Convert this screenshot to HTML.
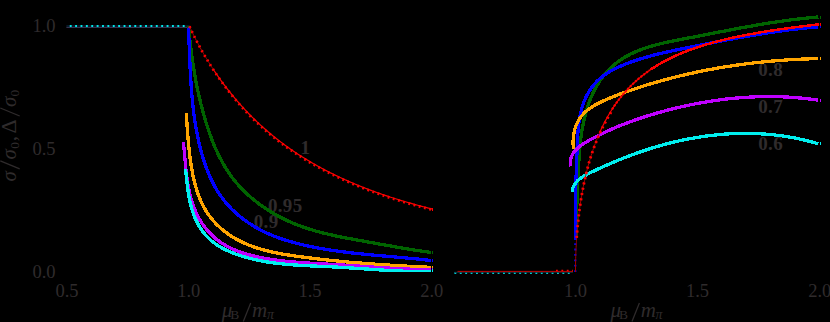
<!DOCTYPE html>
<html><head><meta charset="utf-8"><title>plot</title>
<style>html,body{margin:0;padding:0;background:#000;}body{width:830px;height:322px;overflow:hidden;}svg{display:block;}text{font-family:"Liberation Serif",serif;fill:#2f2b2c;}.b{font-weight:bold;font-size:19px;letter-spacing:0.3px;}.t{font-size:18.5px;}.i{font-style:italic;}</style>
</head><body>
<svg width="830" height="322" viewBox="0 0 830 322">
<rect width="830" height="322" fill="#000"/>
<defs><clipPath id="cl"><rect x="60" y="0" width="380" height="272.05"/></clipPath></defs>
<text x="55.5" y="31.6" class="t" text-anchor="end">1.0</text>
<text x="55.5" y="154.5" class="t" text-anchor="end">0.5</text>
<text x="55.5" y="277.5" class="t" text-anchor="end">0.0</text>
<text x="67.0" y="297.2" class="t" text-anchor="middle">0.5</text>
<text x="188.8" y="297.2" class="t" text-anchor="middle">1.0</text>
<text x="310.0" y="297.2" class="t" text-anchor="middle">1.5</text>
<text x="431.8" y="297.2" class="t" text-anchor="middle">2.0</text>
<text x="575.5" y="297.2" class="t" text-anchor="middle">1.0</text>
<text x="697.5" y="297.2" class="t" text-anchor="middle">1.5</text>
<text x="819.8" y="297.2" class="t" text-anchor="middle">2.0</text>
<g class="t i" style="font-size:21px"><text x="221.7" y="317.2">μ</text><text x="230.3" y="319.4" style="font-size:13.5px;font-style:normal">B</text><path d="M243.3 321.6 l7.4 -18.6" stroke="#2f2b2c" stroke-width="1.25" fill="none"/><text x="252.0" y="317.2">m</text><text x="266.9" y="319.4" style="font-size:14px">π</text></g>
<g class="t i" style="font-size:21px"><text x="610.4" y="317.2">μ</text><text x="619.0" y="319.4" style="font-size:13.5px;font-style:normal">B</text><path d="M632.0 321.6 l7.4 -18.6" stroke="#2f2b2c" stroke-width="1.25" fill="none"/><text x="640.7" y="317.2">m</text><text x="655.6" y="319.4" style="font-size:14px">π</text></g>
<g transform="translate(15.5,183) rotate(-90)" class="t i" style="font-size:21px"><text x="1.5" y="0">σ</text><path d="M14.2 4.2 l8 -19.4" stroke="#2f2b2c" stroke-width="1.25" fill="none"/><text x="23.5" y="0">σ</text><text x="34.3" y="3" style="font-size:13.5px;font-style:normal">0</text><text x="41.8" y="0" style="font-style:normal">,</text><text x="49.5" y="0" style="font-style:normal;font-size:22px">Δ</text><path d="M67 4.2 l8 -19.4" stroke="#2f2b2c" stroke-width="1.25" fill="none"/><text x="76" y="0">σ</text><text x="86.6" y="3" style="font-size:13.5px;font-style:normal">0</text></g>
<text x="300.5" y="153.8" class="b" text-anchor="start">1</text>
<text x="268.0" y="211.6" class="b" text-anchor="start">0.95</text>
<text x="253.8" y="228.2" class="b" text-anchor="start">0.9</text>
<text x="758.3" y="76.0" class="b" text-anchor="start">0.8</text>
<text x="758.3" y="112.5" class="b" text-anchor="start">0.7</text>
<text x="758.3" y="149.9" class="b" text-anchor="start">0.6</text>
<path d="M66.4 27.4 H189.6" stroke="#565082" stroke-width="0.7" fill="none"/>
<path d="M66.4 26 H189.8" stroke="#0c2236" stroke-width="1.4" fill="none"/>
<path d="M66.4 26 H186" stroke="#00e5e5" stroke-width="2.2" stroke-dasharray="1.9 3.48" stroke-dashoffset="2.03" fill="none"/>
<path d="M188.50 26.30 L188.64 27.77 L188.77 29.24 L188.91 30.71 L189.05 32.17 L189.20 33.64 L189.35 35.10 L189.50 36.56 L189.65 38.02 L189.81 39.48 L189.97 40.94 L190.14 42.40 L190.30 43.85 L190.47 45.31 L190.65 46.76 L190.82 48.21 L191.00 49.67 L191.19 51.12 L191.37 52.56 L191.56 54.01 L191.76 55.46 L191.96 56.90 L192.16 58.35 L192.36 59.79 L192.57 61.23 L192.79 62.68 L193.00 64.12 L193.23 65.56 L193.45 66.99 L193.68 68.43 L193.91 69.87 L194.15 71.30 L194.40 72.74 L194.64 74.17 L194.89 75.60 L195.15 77.04 L195.41 78.47 L195.68 79.90 L195.95 81.33 L196.22 82.76 L196.50 84.18 L196.78 85.61 L197.07 87.04 L197.37 88.46 L197.67 89.88 L197.97 91.31 L198.28 92.73 L198.59 94.15 L198.91 95.58 L199.24 97.00 L199.57 98.42 L199.90 99.84 L200.25 101.25 L200.59 102.67 L200.94 104.09 L201.30 105.51 L201.67 106.92 L202.04 108.34 L202.41 109.75 L202.79 111.17 L203.18 112.58 L203.57 114.00 L203.97 115.41 L204.38 116.82 L204.79 118.23 L205.21 119.64 L205.63 121.06 L206.06 122.47 L206.50 123.88 L206.94 125.28 L207.39 126.69 L207.85 128.10 L208.31 129.50 L208.79 130.90 L209.27 132.30 L209.76 133.69 L210.25 135.09 L210.76 136.48 L211.27 137.86 L211.79 139.25 L212.32 140.63 L212.86 142.00 L213.41 143.37 L213.97 144.74 L214.54 146.10 L215.12 147.46 L215.71 148.81 L216.30 150.15 L216.91 151.49 L217.53 152.82 L218.16 154.15 L218.80 155.47 L219.46 156.78 L220.12 158.09 L220.79 159.39 L221.48 160.68 L222.18 161.96 L222.89 163.24 L223.61 164.50 L224.35 165.76 L225.09 167.01 L225.85 168.25 L226.63 169.48 L227.42 170.70 L228.22 171.91 L229.03 173.12 L229.86 174.31 L230.70 175.49 L231.55 176.66 L232.42 177.82 L233.31 178.96 L234.20 180.10 L235.11 181.23 L236.04 182.34 L236.97 183.45 L237.92 184.54 L238.88 185.62 L239.86 186.69 L240.84 187.76 L241.84 188.81 L242.85 189.85 L243.88 190.87 L244.91 191.89 L245.95 192.90 L247.01 193.89 L248.08 194.88 L249.16 195.85 L250.25 196.81 L251.35 197.76 L252.46 198.70 L253.58 199.63 L254.71 200.55 L255.85 201.46 L257.00 202.35 L258.16 203.24 L259.33 204.11 L260.51 204.97 L261.70 205.82 L262.89 206.66 L264.10 207.49 L265.31 208.31 L266.53 209.12 L267.76 209.91 L269.00 210.70 L270.25 211.47 L271.50 212.23 L272.76 212.98 L274.03 213.72 L275.30 214.45 L276.58 215.17 L277.87 215.87 L279.16 216.57 L280.46 217.25 L281.77 217.92 L283.08 218.58 L284.40 219.23 L285.73 219.87 L287.06 220.49 L288.39 221.11 L289.73 221.71 L291.08 222.30 L292.43 222.88 L293.78 223.45 L295.14 224.01 L296.50 224.56 L297.87 225.09 L299.24 225.62 L300.62 226.13 L302.00 226.63 L303.38 227.12 L304.76 227.60 L306.15 228.06 L307.54 228.52 L308.94 228.97 L310.33 229.41 L311.73 229.84 L313.14 230.25 L314.54 230.66 L315.95 231.07 L317.36 231.46 L318.78 231.84 L320.19 232.22 L321.61 232.59 L323.03 232.95 L324.45 233.30 L325.88 233.65 L327.30 233.99 L328.73 234.33 L330.16 234.65 L331.59 234.98 L333.02 235.29 L334.46 235.60 L335.89 235.91 L337.33 236.21 L338.77 236.51 L340.21 236.80 L341.65 237.09 L343.09 237.37 L344.53 237.65 L345.97 237.93 L347.41 238.21 L348.86 238.48 L350.30 238.75 L351.74 239.01 L353.19 239.28 L354.63 239.54 L356.08 239.80 L357.52 240.06 L358.96 240.32 L360.41 240.58 L361.85 240.84 L363.29 241.10 L364.74 241.36 L366.18 241.61 L367.62 241.87 L369.06 242.13 L370.50 242.39 L371.94 242.65 L373.38 242.91 L374.82 243.17 L376.25 243.43 L377.69 243.69 L379.13 243.96 L380.56 244.22 L382.00 244.47 L383.44 244.73 L384.87 244.99 L386.31 245.25 L387.75 245.51 L389.18 245.76 L390.62 246.02 L392.05 246.27 L393.49 246.53 L394.93 246.78 L396.36 247.03 L397.80 247.28 L399.24 247.53 L400.68 247.77 L402.11 248.02 L403.55 248.26 L404.99 248.50 L406.43 248.74 L407.87 248.98 L409.31 249.21 L410.75 249.45 L412.20 249.68 L413.64 249.91 L415.08 250.13 L416.53 250.35 L417.98 250.57 L419.42 250.79 L420.87 251.00 L422.32 251.22 L423.77 251.42 L425.22 251.63 L426.67 251.83 L428.13 252.03 L429.58 252.22 L431.04 252.41 L431.20 252.43" fill="none" stroke="#006400" stroke-width="3.30" stroke-linejoin="round" clip-path="url(#cl)" shape-rendering="crispEdges"/>
<rect x="431.9" y="251.1" width="1.1" height="3" fill="#006400" shape-rendering="crispEdges"/>
<path d="M188.40 27.50 L188.47 29.06 L188.54 30.62 L188.62 32.18 L188.68 33.73 L188.75 35.29 L188.82 36.84 L188.88 38.40 L188.95 39.95 L189.01 41.51 L189.08 43.06 L189.14 44.61 L189.20 46.17 L189.26 47.72 L189.32 49.27 L189.39 50.82 L189.45 52.37 L189.51 53.92 L189.57 55.47 L189.64 57.02 L189.70 58.57 L189.77 60.11 L189.84 61.66 L189.90 63.21 L189.97 64.76 L190.05 66.30 L190.12 67.85 L190.20 69.39 L190.27 70.94 L190.35 72.49 L190.44 74.03 L190.52 75.57 L190.61 77.12 L190.70 78.66 L190.79 80.21 L190.89 81.75 L190.99 83.29 L191.09 84.83 L191.20 86.38 L191.31 87.92 L191.42 89.46 L191.54 91.00 L191.67 92.55 L191.79 94.09 L191.92 95.63 L192.06 97.17 L192.20 98.71 L192.35 100.25 L192.50 101.79 L192.66 103.33 L192.82 104.87 L192.99 106.42 L193.16 107.96 L193.34 109.50 L193.53 111.04 L193.72 112.58 L193.92 114.12 L194.12 115.66 L194.34 117.20 L194.55 118.74 L194.78 120.28 L195.01 121.82 L195.25 123.36 L195.50 124.90 L195.76 126.44 L196.02 127.98 L196.29 129.52 L196.57 131.07 L196.85 132.61 L197.15 134.15 L197.45 135.69 L197.77 137.23 L198.09 138.77 L198.42 140.31 L198.76 141.85 L199.11 143.39 L199.47 144.93 L199.84 146.46 L200.22 147.99 L200.61 149.52 L201.01 151.05 L201.42 152.57 L201.85 154.09 L202.28 155.61 L202.73 157.12 L203.19 158.62 L203.66 160.13 L204.14 161.62 L204.64 163.11 L205.15 164.60 L205.67 166.07 L206.21 167.54 L206.76 169.01 L207.32 170.47 L207.90 171.91 L208.49 173.36 L209.09 174.79 L209.71 176.21 L210.35 177.63 L211.00 179.03 L211.67 180.43 L212.35 181.81 L213.05 183.19 L213.76 184.55 L214.49 185.91 L215.24 187.25 L216.01 188.58 L216.79 189.90 L217.59 191.20 L218.40 192.50 L219.24 193.78 L220.09 195.04 L220.96 196.30 L221.85 197.53 L222.76 198.76 L223.68 199.97 L224.63 201.16 L225.60 202.34 L226.58 203.51 L227.58 204.66 L228.60 205.79 L229.64 206.91 L230.69 208.01 L231.76 209.10 L232.85 210.18 L233.95 211.23 L235.07 212.28 L236.21 213.30 L237.36 214.32 L238.53 215.31 L239.71 216.29 L240.90 217.26 L242.11 218.21 L243.34 219.15 L244.57 220.06 L245.82 220.97 L247.09 221.86 L248.36 222.73 L249.65 223.59 L250.95 224.43 L252.26 225.26 L253.58 226.07 L254.92 226.86 L256.26 227.64 L257.61 228.40 L258.98 229.15 L260.35 229.88 L261.74 230.60 L263.13 231.30 L264.53 231.98 L265.94 232.65 L267.36 233.31 L268.78 233.94 L270.22 234.56 L271.66 235.17 L273.10 235.76 L274.56 236.33 L276.02 236.89 L277.48 237.44 L278.96 237.97 L280.43 238.49 L281.92 238.99 L283.40 239.48 L284.90 239.96 L286.39 240.43 L287.89 240.88 L289.40 241.33 L290.90 241.76 L292.41 242.18 L293.93 242.59 L295.44 242.99 L296.96 243.39 L298.48 243.77 L300.00 244.14 L301.52 244.51 L303.05 244.87 L304.57 245.22 L306.10 245.56 L307.62 245.89 L309.15 246.22 L310.68 246.54 L312.20 246.86 L313.73 247.16 L315.26 247.46 L316.80 247.75 L318.33 248.04 L319.86 248.32 L321.39 248.59 L322.93 248.86 L324.46 249.12 L326.00 249.37 L327.53 249.62 L329.07 249.87 L330.61 250.10 L332.14 250.34 L333.68 250.56 L335.22 250.79 L336.76 251.00 L338.30 251.22 L339.84 251.43 L341.38 251.63 L342.92 251.83 L344.47 252.02 L346.01 252.22 L347.55 252.40 L349.09 252.59 L350.64 252.77 L352.18 252.94 L353.72 253.11 L355.27 253.28 L356.81 253.45 L358.36 253.61 L359.90 253.77 L361.45 253.93 L363.00 254.09 L364.54 254.24 L366.09 254.39 L367.63 254.54 L369.18 254.69 L370.73 254.83 L372.27 254.98 L373.82 255.12 L375.37 255.26 L376.91 255.40 L378.46 255.53 L380.01 255.67 L381.56 255.81 L383.10 255.94 L384.65 256.08 L386.20 256.21 L387.74 256.34 L389.29 256.48 L390.84 256.61 L392.38 256.74 L393.93 256.88 L395.48 257.01 L397.02 257.15 L398.57 257.28 L400.12 257.42 L401.66 257.55 L403.21 257.69 L404.75 257.83 L406.30 257.97 L407.84 258.11 L409.38 258.26 L410.93 258.40 L412.47 258.55 L414.02 258.70 L415.56 258.85 L417.10 259.01 L418.64 259.16 L420.18 259.32 L421.73 259.48 L423.27 259.65 L424.81 259.82 L426.35 259.99 L427.88 260.16 L429.42 260.34 L430.96 260.52 L431.20 260.55" fill="none" stroke="#0000ff" stroke-width="3.30" stroke-linejoin="round" clip-path="url(#cl)" shape-rendering="crispEdges"/>
<rect x="431.9" y="259.2" width="1.1" height="3" fill="#0000ff" shape-rendering="crispEdges"/>
<path d="M186.29 113.11 L186.37 114.41 L186.45 115.71 L186.54 117.01 L186.62 118.32 L186.70 119.62 L186.78 120.93 L186.86 122.23 L186.95 123.54 L187.03 124.84 L187.12 126.15 L187.21 127.45 L187.30 128.76 L187.39 130.07 L187.49 131.38 L187.58 132.69 L187.68 134.00 L187.78 135.31 L187.89 136.62 L187.99 137.93 L188.10 139.24 L188.21 140.55 L188.33 141.87 L188.45 143.18 L188.57 144.50 L188.70 145.81 L188.83 147.13 L188.97 148.45 L189.11 149.77 L189.25 151.09 L189.40 152.41 L189.56 153.73 L189.72 155.05 L189.88 156.37 L190.05 157.70 L190.23 159.02 L190.41 160.35 L190.59 161.67 L190.79 163.00 L190.99 164.33 L191.19 165.66 L191.41 166.98 L191.63 168.31 L191.86 169.64 L192.10 170.96 L192.34 172.28 L192.60 173.60 L192.86 174.92 L193.13 176.24 L193.42 177.55 L193.71 178.86 L194.01 180.17 L194.33 181.47 L194.65 182.77 L194.99 184.06 L195.34 185.35 L195.70 186.63 L196.07 187.91 L196.46 189.18 L196.85 190.44 L197.26 191.70 L197.69 192.95 L198.13 194.20 L198.58 195.44 L199.05 196.67 L199.53 197.89 L200.03 199.10 L200.54 200.30 L201.07 201.50 L201.61 202.68 L202.17 203.86 L202.75 205.03 L203.34 206.18 L203.95 207.32 L204.58 208.46 L205.23 209.58 L205.90 210.69 L206.58 211.79 L207.28 212.88 L208.01 213.95 L208.75 215.01 L209.51 216.06 L210.29 217.09 L211.09 218.11 L211.91 219.12 L212.74 220.11 L213.60 221.09 L214.47 222.06 L215.35 223.01 L216.26 223.94 L217.18 224.87 L218.11 225.78 L219.07 226.67 L220.03 227.55 L221.01 228.42 L222.01 229.27 L223.02 230.11 L224.04 230.93 L225.07 231.74 L226.12 232.53 L227.18 233.31 L228.25 234.07 L229.33 234.82 L230.42 235.55 L231.53 236.27 L232.64 236.97 L233.77 237.66 L234.90 238.33 L236.04 238.98 L237.19 239.62 L238.35 240.24 L239.51 240.85 L240.69 241.44 L241.87 242.01 L243.06 242.57 L244.25 243.12 L245.46 243.65 L246.67 244.17 L247.88 244.67 L249.10 245.16 L250.33 245.63 L251.57 246.09 L252.81 246.54 L254.05 246.98 L255.30 247.41 L256.56 247.82 L257.82 248.22 L259.08 248.61 L260.36 248.99 L261.63 249.36 L262.91 249.71 L264.19 250.06 L265.48 250.40 L266.77 250.73 L268.07 251.04 L269.37 251.35 L270.67 251.65 L271.97 251.95 L273.28 252.23 L274.59 252.51 L275.90 252.77 L277.22 253.04 L278.54 253.29 L279.86 253.54 L281.18 253.78 L282.50 254.01 L283.82 254.24 L285.15 254.47 L286.48 254.68 L287.80 254.90 L289.13 255.10 L290.46 255.31 L291.79 255.51 L293.12 255.70 L294.45 255.90 L295.78 256.09 L297.10 256.27 L298.43 256.46 L299.76 256.64 L301.08 256.82 L302.41 256.99 L303.73 257.17 L305.06 257.34 L306.38 257.51 L307.70 257.68 L309.02 257.85 L310.34 258.02 L311.66 258.18 L312.98 258.34 L314.30 258.50 L315.61 258.66 L316.93 258.81 L318.24 258.97 L319.56 259.12 L320.87 259.27 L322.19 259.42 L323.50 259.57 L324.81 259.71 L326.12 259.86 L327.43 260.00 L328.74 260.14 L330.05 260.28 L331.36 260.42 L332.67 260.55 L333.98 260.69 L335.29 260.82 L336.60 260.95 L337.90 261.08 L339.21 261.21 L340.52 261.33 L341.82 261.46 L343.13 261.58 L344.43 261.70 L345.74 261.82 L347.05 261.94 L348.35 262.06 L349.66 262.18 L350.96 262.29 L352.26 262.41 L353.57 262.52 L354.87 262.63 L356.18 262.74 L357.48 262.85 L358.79 262.95 L360.09 263.06 L361.40 263.16 L362.70 263.27 L364.01 263.37 L365.31 263.47 L366.61 263.57 L367.92 263.67 L369.22 263.76 L370.53 263.86 L371.84 263.95 L373.14 264.05 L374.45 264.14 L375.75 264.23 L377.06 264.32 L378.37 264.41 L379.67 264.50 L380.98 264.59 L382.29 264.68 L383.60 264.76 L384.91 264.85 L386.22 264.93 L387.53 265.01 L388.84 265.09 L390.15 265.18 L391.46 265.26 L392.77 265.33 L394.08 265.41 L395.40 265.49 L396.71 265.57 L398.02 265.64 L399.34 265.72 L400.65 265.79 L401.97 265.87 L403.29 265.94 L404.61 266.01 L405.93 266.08 L407.25 266.16 L408.57 266.23 L409.89 266.30 L411.21 266.36 L412.53 266.43 L413.86 266.50 L415.18 266.57 L416.51 266.64 L417.83 266.70 L419.16 266.77 L420.49 266.83 L421.82 266.90 L423.15 266.96 L424.48 267.03 L425.82 267.09 L427.15 267.15 L428.49 267.21 L429.82 267.28 L431.16 267.34 L431.20 267.34" fill="none" stroke="#ffa500" stroke-width="3.30" stroke-linejoin="round" clip-path="url(#cl)" shape-rendering="crispEdges"/>
<rect x="431.9" y="265.9" width="1.1" height="3" fill="#ffa500" shape-rendering="crispEdges"/>
<path d="M183.30 142.11 L183.44 143.32 L183.57 144.53 L183.70 145.75 L183.83 146.97 L183.95 148.20 L184.07 149.43 L184.19 150.67 L184.31 151.91 L184.42 153.15 L184.53 154.39 L184.65 155.64 L184.76 156.89 L184.87 158.15 L184.98 159.40 L185.09 160.66 L185.21 161.92 L185.32 163.19 L185.44 164.45 L185.56 165.72 L185.68 166.98 L185.81 168.25 L185.94 169.52 L186.07 170.79 L186.21 172.06 L186.36 173.33 L186.51 174.60 L186.67 175.87 L186.83 177.14 L187.00 178.41 L187.17 179.68 L187.36 180.95 L187.55 182.21 L187.75 183.48 L187.97 184.74 L188.19 186.01 L188.42 187.27 L188.66 188.53 L188.91 189.78 L189.17 191.04 L189.44 192.29 L189.73 193.54 L190.03 194.78 L190.34 196.02 L190.66 197.26 L191.00 198.49 L191.35 199.72 L191.71 200.94 L192.09 202.16 L192.48 203.37 L192.89 204.57 L193.31 205.77 L193.75 206.96 L194.20 208.14 L194.67 209.31 L195.15 210.48 L195.65 211.64 L196.17 212.79 L196.70 213.92 L197.25 215.05 L197.82 216.17 L198.41 217.28 L199.01 218.38 L199.64 219.47 L200.27 220.54 L200.93 221.60 L201.60 222.66 L202.29 223.70 L203.00 224.72 L203.72 225.74 L204.46 226.74 L205.21 227.72 L205.98 228.70 L206.77 229.65 L207.57 230.60 L208.39 231.53 L209.22 232.44 L210.07 233.34 L210.93 234.22 L211.81 235.09 L212.70 235.94 L213.61 236.77 L214.53 237.59 L215.47 238.39 L216.42 239.17 L217.38 239.93 L218.36 240.68 L219.35 241.40 L220.36 242.11 L221.38 242.80 L222.41 243.48 L223.45 244.13 L224.51 244.77 L225.57 245.39 L226.65 246.00 L227.74 246.59 L228.84 247.16 L229.95 247.72 L231.08 248.26 L232.21 248.79 L233.35 249.30 L234.50 249.80 L235.65 250.29 L236.82 250.76 L237.99 251.22 L239.18 251.66 L240.37 252.09 L241.56 252.51 L242.77 252.91 L243.98 253.31 L245.19 253.69 L246.41 254.06 L247.64 254.41 L248.87 254.76 L250.11 255.10 L251.35 255.42 L252.60 255.74 L253.85 256.04 L255.10 256.34 L256.35 256.62 L257.61 256.90 L258.87 257.17 L260.14 257.43 L261.40 257.68 L262.67 257.92 L263.94 258.15 L265.20 258.38 L266.47 258.60 L267.74 258.82 L269.01 259.02 L270.28 259.22 L271.55 259.42 L272.81 259.60 L274.08 259.79 L275.34 259.96 L276.61 260.13 L277.87 260.30 L279.14 260.46 L280.40 260.61 L281.66 260.76 L282.92 260.91 L284.18 261.05 L285.44 261.18 L286.70 261.31 L287.96 261.44 L289.22 261.56 L290.48 261.68 L291.74 261.80 L292.99 261.91 L294.25 262.02 L295.51 262.12 L296.76 262.22 L298.02 262.32 L299.27 262.42 L300.53 262.51 L301.78 262.60 L303.04 262.69 L304.29 262.77 L305.54 262.86 L306.80 262.94 L308.05 263.02 L309.30 263.10 L310.56 263.17 L311.81 263.25 L313.06 263.32 L314.32 263.39 L315.57 263.46 L316.82 263.53 L318.07 263.60 L319.33 263.67 L320.58 263.74 L321.83 263.81 L323.08 263.87 L324.33 263.94 L325.59 264.01 L326.84 264.08 L328.09 264.15 L329.34 264.22 L330.60 264.29 L331.85 264.36 L333.10 264.43 L334.36 264.50 L335.61 264.58 L336.86 264.65 L338.12 264.73 L339.37 264.81 L340.63 264.89 L341.88 264.97 L343.14 265.05 L344.39 265.13 L345.65 265.21 L346.90 265.29 L348.16 265.38 L349.41 265.46 L350.67 265.54 L351.92 265.63 L353.18 265.71 L354.43 265.80 L355.69 265.88 L356.95 265.97 L358.20 266.06 L359.46 266.14 L360.72 266.23 L361.97 266.32 L363.23 266.40 L364.49 266.49 L365.74 266.58 L367.00 266.66 L368.26 266.75 L369.52 266.84 L370.78 266.92 L372.03 267.01 L373.29 267.09 L374.55 267.18 L375.81 267.26 L377.07 267.34 L378.32 267.43 L379.58 267.51 L380.84 267.59 L382.10 267.67 L383.36 267.75 L384.62 267.83 L385.88 267.91 L387.14 267.98 L388.39 268.06 L389.65 268.14 L390.91 268.21 L392.17 268.28 L393.43 268.35 L394.69 268.43 L395.95 268.49 L397.21 268.56 L398.47 268.63 L399.73 268.69 L400.99 268.76 L402.25 268.82 L403.51 268.88 L404.77 268.94 L406.03 268.99 L407.29 269.05 L408.55 269.10 L409.81 269.15 L411.07 269.20 L412.33 269.25 L413.59 269.30 L414.85 269.34 L416.11 269.38 L417.37 269.42 L418.63 269.46 L419.89 269.49 L421.16 269.52 L422.42 269.55 L423.68 269.58 L424.94 269.60 L426.20 269.63 L427.46 269.65 L428.72 269.66 L429.98 269.68 L431.20 269.69" fill="none" stroke="#bf00ff" stroke-width="3.30" stroke-linejoin="round" clip-path="url(#cl)" shape-rendering="crispEdges"/>
<rect x="431.9" y="268.2" width="1.1" height="3" fill="#bf00ff" shape-rendering="crispEdges"/>
<path d="M185.50 168.80 L185.62 169.91 L185.75 171.03 L185.87 172.15 L185.99 173.29 L186.11 174.42 L186.23 175.57 L186.35 176.72 L186.47 177.88 L186.60 179.04 L186.73 180.20 L186.86 181.37 L186.99 182.55 L187.13 183.73 L187.28 184.91 L187.42 186.09 L187.57 187.28 L187.73 188.47 L187.90 189.65 L188.07 190.84 L188.25 192.03 L188.43 193.22 L188.62 194.41 L188.82 195.60 L189.03 196.79 L189.25 197.98 L189.48 199.16 L189.72 200.34 L189.97 201.52 L190.23 202.70 L190.51 203.87 L190.79 205.04 L191.09 206.20 L191.40 207.36 L191.72 208.51 L192.06 209.65 L192.41 210.79 L192.78 211.93 L193.16 213.05 L193.56 214.17 L193.97 215.28 L194.40 216.38 L194.85 217.47 L195.31 218.56 L195.79 219.63 L196.28 220.69 L196.80 221.75 L197.33 222.79 L197.87 223.82 L198.44 224.84 L199.02 225.85 L199.62 226.85 L200.23 227.83 L200.86 228.80 L201.51 229.76 L202.17 230.70 L202.85 231.63 L203.55 232.54 L204.27 233.44 L205.00 234.33 L205.75 235.20 L206.52 236.05 L207.30 236.89 L208.11 237.71 L208.93 238.51 L209.76 239.30 L210.61 240.06 L211.48 240.81 L212.37 241.54 L213.27 242.26 L214.19 242.96 L215.13 243.64 L216.08 244.30 L217.04 244.95 L218.01 245.58 L219.00 246.20 L220.00 246.80 L221.01 247.38 L222.04 247.96 L223.07 248.51 L224.11 249.06 L225.17 249.58 L226.23 250.10 L227.30 250.60 L228.38 251.09 L229.47 251.57 L230.56 252.04 L231.66 252.49 L232.76 252.93 L233.87 253.36 L234.99 253.78 L236.11 254.19 L237.23 254.59 L238.35 254.97 L239.48 255.35 L240.61 255.72 L241.74 256.08 L242.88 256.43 L244.01 256.77 L245.15 257.11 L246.28 257.43 L247.42 257.75 L248.56 258.05 L249.71 258.35 L250.85 258.64 L252.00 258.93 L253.14 259.20 L254.29 259.47 L255.44 259.73 L256.59 259.98 L257.74 260.22 L258.89 260.46 L260.05 260.69 L261.20 260.92 L262.36 261.13 L263.52 261.34 L264.68 261.55 L265.84 261.74 L267.00 261.93 L268.16 262.12 L269.32 262.30 L270.49 262.47 L271.65 262.64 L272.82 262.80 L273.99 262.96 L275.15 263.11 L276.32 263.25 L277.49 263.39 L278.66 263.53 L279.83 263.66 L281.01 263.79 L282.18 263.91 L283.35 264.03 L284.53 264.14 L285.70 264.25 L286.87 264.36 L288.05 264.46 L289.23 264.56 L290.40 264.65 L291.58 264.74 L292.76 264.83 L293.93 264.92 L295.11 265.00 L296.29 265.08 L297.47 265.15 L298.65 265.23 L299.83 265.30 L301.01 265.37 L302.19 265.44 L303.37 265.50 L304.55 265.57 L305.73 265.63 L306.91 265.69 L308.09 265.75 L309.27 265.80 L310.45 265.86 L311.63 265.91 L312.81 265.97 L314.00 266.02 L315.18 266.07 L316.36 266.12 L317.54 266.18 L318.72 266.23 L319.90 266.28 L321.08 266.33 L322.26 266.38 L323.44 266.43 L324.61 266.49 L325.79 266.54 L326.97 266.59 L328.15 266.65 L329.33 266.70 L330.50 266.76 L331.68 266.82 L332.86 266.88 L334.03 266.94 L335.21 267.00 L336.38 267.06 L337.55 267.13 L338.73 267.19 L339.90 267.26 L341.07 267.33 L342.24 267.40 L343.42 267.47 L344.59 267.54 L345.76 267.62 L346.93 267.69 L348.10 267.77 L349.27 267.84 L350.44 267.92 L351.61 268.00 L352.78 268.07 L353.95 268.15 L355.11 268.23 L356.28 268.31 L357.45 268.39 L358.62 268.47 L359.79 268.55 L360.95 268.63 L362.12 268.71 L363.29 268.79 L364.45 268.87 L365.62 268.95 L366.79 269.04 L367.95 269.12 L369.12 269.20 L370.29 269.28 L371.45 269.35 L372.62 269.43 L373.79 269.51 L374.95 269.59 L376.12 269.67 L377.29 269.74 L378.45 269.82 L379.62 269.90 L380.79 269.97 L381.96 270.04 L383.12 270.12 L384.29 270.19 L385.46 270.26 L386.63 270.33 L387.79 270.40 L388.96 270.46 L390.13 270.53 L391.30 270.59 L392.47 270.66 L393.64 270.72 L394.81 270.78 L395.98 270.83 L397.15 270.89 L398.32 270.95 L399.49 271.00 L400.66 271.05 L401.83 271.10 L403.01 271.15 L404.18 271.19 L405.35 271.23 L406.53 271.27 L407.70 271.31 L408.87 271.35 L410.05 271.38 L411.23 271.41 L412.40 271.44 L413.58 271.47 L414.76 271.49 L415.93 271.51 L417.11 271.53 L418.29 271.55 L419.47 271.56 L420.65 271.57 L421.83 271.58 L423.02 271.58 L424.20 271.58 L425.38 271.58 L426.57 271.57 L427.75 271.57 L428.94 271.55 L430.13 271.54 L431.20 271.52" fill="none" stroke="#00eeee" stroke-width="3.30" stroke-linejoin="round" clip-path="url(#cl)" shape-rendering="crispEdges"/>
<rect x="431.9" y="269.0" width="1.1" height="3" fill="#00eeee" shape-rendering="crispEdges"/>
<path d="M189.45 26.30 L190.19 27.92 L190.94 29.53 L191.69 31.13 L192.45 32.70 L193.21 34.26 L193.97 35.81 L194.74 37.34 L195.51 38.86 L196.28 40.36 L197.06 41.84 L197.83 43.32 L198.61 44.77 L199.39 46.22 L200.18 47.65 L200.96 49.06 L201.75 50.47 L202.54 51.86 L203.33 53.23 L204.12 54.60 L204.92 55.95 L205.71 57.29 L206.51 58.61 L207.30 59.92 L208.10 61.22 L208.90 62.51 L209.70 63.79 L210.50 65.05 L211.30 66.31 L212.10 67.55 L212.91 68.78 L213.71 70.00" fill="none" stroke="#a80000" stroke-width="1.00" stroke-linejoin="round"/>
<path d="M213.71 70.00 L214.51 71.21 L215.32 72.41 L216.13 73.59 L216.93 74.77 L217.74 75.93 L218.54 77.09 L219.35 78.23 L220.16 79.37 L220.97 80.49 L221.78 81.61 L222.59 82.71 L223.40 83.81 L224.21 84.89 L225.02 85.97 L225.83 87.03 L226.64 88.09 L227.45 89.14 L228.26 90.18 L229.07 91.21 L229.88 92.23 L230.70 93.24 L231.51 94.25 L232.32 95.24 L233.13 96.23 L233.95 97.21 L234.76 98.18 L235.57 99.14 L236.39 100.10 L237.20 101.04 L238.01 101.98 L238.83 102.91 L239.64 103.83 L240.45 104.75 L241.27 105.66 L242.08 106.56 L242.90 107.45 L243.71 108.33 L244.53 109.21 L245.34 110.08 L246.16 110.95 L246.97 111.80 L247.79 112.65 L248.60 113.50 L249.42 114.33 L250.23 115.16 L251.05 115.99 L251.86 116.80 L252.68 117.61 L253.49 118.42 L254.31 119.22 L255.12 120.01 L255.94 120.79 L256.76 121.57 L257.57 122.34 L258.39 123.11 L259.20 123.87 L260.02 124.62 L260.83 125.37 L261.65 126.12 L262.47 126.85 L263.28 127.59 L264.10 128.31 L264.91 129.03 L265.73 129.75 L266.55 130.46 L267.36 131.16 L268.18 131.86 L269.00 132.55 L269.81 133.24 L270.63 133.93 L271.44 134.60 L272.26 135.28 L273.08 135.95 L273.89 136.61 L274.71 137.27 L275.53 137.92 L276.34 138.57 L277.16 139.21 L277.98 139.85 L278.79 140.49 L279.61 141.12 L280.43 141.74 L281.24 142.36 L282.06 142.98 L282.88 143.59 L283.69 144.20 L284.51 144.80 L285.33 145.40 L286.14 145.99 L286.96 146.58 L287.78 147.17 L288.59 147.75 L289.41 148.33 L290.23 148.90 L291.04 149.47 L291.86 150.03 L292.68 150.60 L293.49 151.15 L294.31 151.71 L295.13 152.26 L295.94 152.80 L296.76 153.34 L297.58 153.88 L298.39 154.42 L299.21 154.95 L300.03 155.48 L300.85 156.00 L301.66 156.52 L302.48 157.04 L303.30 157.55 L304.11 158.06 L304.93 158.56 L305.75 159.07 L306.56 159.57 L307.38 160.06 L308.20 160.55 L309.01 161.04 L309.83 161.53 L310.65 162.01 L311.47 162.49 L312.28 162.97 L313.10 163.44 L313.92 163.91 L314.73 164.38 L315.55 164.84 L316.37 165.30 L317.18 165.76 L318.00 166.21 L318.82 166.66 L319.64 167.11 L320.45 167.56 L321.27 168.00 L322.09 168.44 L322.90 168.88 L323.72 169.31 L324.54 169.74 L325.36 170.17 L326.17 170.60 L326.99 171.02 L327.81 171.44 L328.62 171.86 L329.44 172.28 L330.26 172.69 L331.07 173.10 L331.89 173.51 L332.71 173.91 L333.53 174.31 L334.34 174.71 L335.16 175.11 L335.98 175.51 L336.79 175.90 L337.61 176.29 L338.43 176.68 L339.25 177.06 L340.06 177.44 L340.88 177.82 L341.70 178.20 L342.51 178.58 L343.33 178.95 L344.15 179.32 L344.97 179.69 L345.78 180.06 L346.60 180.42 L347.42 180.78 L348.23 181.14 L349.05 181.50 L349.87 181.86 L350.69 182.21 L351.50 182.56 L352.32 182.91 L353.14 183.26 L353.95 183.60 L354.77 183.94 L355.59 184.29 L356.41 184.62 L357.22 184.96 L358.04 185.30 L358.86 185.63 L359.67 185.96 L360.49 186.29 L361.31 186.62 L362.13 186.94 L362.94 187.26 L363.76 187.59 L364.58 187.91 L365.39 188.22 L366.21 188.54 L367.03 188.85 L367.85 189.16 L368.66 189.48 L369.48 189.78 L370.30 190.09 L371.11 190.40 L371.93 190.70 L372.75 191.00 L373.57 191.30 L374.38 191.60 L375.20 191.89 L376.02 192.19 L376.83 192.48 L377.65 192.77 L378.47 193.06 L379.29 193.35 L380.10 193.64 L380.92 193.92 L381.74 194.21 L382.55 194.49 L383.37 194.77 L384.19 195.05 L385.01 195.32 L385.82 195.60 L386.64 195.87 L387.46 196.15 L388.27 196.42 L389.09 196.69 L389.91 196.95 L390.73 197.22 L391.54 197.49 L392.36 197.75 L393.18 198.01 L394.00 198.27 L394.81 198.53 L395.63 198.79 L396.45 199.05 L397.26 199.30 L398.08 199.55 L398.90 199.81 L399.72 200.06 L400.53 200.31 L401.35 200.56 L402.17 200.80 L402.98 201.05 L403.80 201.29 L404.62 201.54 L405.44 201.78 L406.25 202.02 L407.07 202.26 L407.89 202.49 L408.70 202.73 L409.52 202.97 L410.34 203.20 L411.16 203.43 L411.97 203.67 L412.79 203.90 L413.61 204.13 L414.42 204.35 L415.24 204.58 L416.06 204.81 L416.88 205.03 L417.69 205.25 L418.51 205.48 L419.33 205.70 L420.15 205.92 L420.96 206.14 L421.78 206.35 L422.60 206.57 L423.41 206.79 L424.23 207.00 L425.05 207.21 L425.87 207.43 L426.68 207.64 L427.50 207.85 L428.32 208.06 L429.13 208.27 L429.95 208.47 L430.77 208.68 L431.59 208.88 L432.40 209.09" fill="none" stroke="#ff0000" stroke-width="1.20" stroke-linejoin="round"/>
<path d="M189.45 26.30 L190.19 27.92 L190.94 29.53 L191.69 31.13 L192.45 32.70 L193.21 34.26 L193.97 35.81 L194.74 37.34 L195.51 38.86 L196.28 40.36 L197.06 41.84 L197.83 43.32 L198.61 44.77 L199.39 46.22 L200.18 47.65 L200.96 49.08 L201.74 50.49 L202.53 51.89 L203.32 53.28 L204.11 54.65 L204.90 56.02 L205.69 57.37 L206.48 58.70 L207.27 60.03 L208.07 61.34 L208.86 62.64 L209.66 63.93 L210.46 65.20 L211.26 66.47 L212.06 67.72 L212.85 68.96 L213.66 70.19 L214.46 71.41 L215.26 72.62 L216.06 73.82 L216.86 75.01 L217.67 76.18 L218.47 77.35 L219.28 78.50 L220.08 79.65 L220.89 80.79 L221.69 81.91 L222.50 83.03 L223.30 84.13 L224.11 85.23 L224.92 86.32 L225.72 87.40 L226.53 88.46 L227.34 89.52 L228.15 90.57 L228.96 91.62 L229.76 92.65 L230.57 93.67 L231.38 94.69 L232.19 95.70 L233.00 96.69 L233.81 97.68 L234.62 98.67 L235.43 99.64 L236.24 100.60 L237.05 101.56 L237.86 102.51 L238.67 103.45 L239.48 104.39 L240.29 105.31 L241.10 106.23 L241.91 107.15 L242.73 108.05 L243.54 108.95 L244.35 109.84 L245.16 110.72 L245.97 111.59 L246.78 112.46 L247.59 113.32 L248.41 114.18 L249.22 115.03 L250.03 115.86 L250.85 116.69 L251.66 117.50 L252.48 118.31 L253.29 119.12 L254.11 119.92 L254.92 120.71 L255.74 121.49 L256.56 122.27 L257.37 123.04 L258.19 123.81 L259.00 124.57 L259.82 125.32 L260.63 126.07 L261.45 126.82 L262.27 127.55 L263.08 128.29 L263.90 129.01 L264.71 129.73 L265.53 130.45 L266.35 131.16 L267.16 131.86 L267.98 132.56 L268.80 133.25 L269.61 133.94 L270.43 134.63 L271.24 135.30 L272.06 135.98 L272.88 136.65 L273.69 137.31 L274.51 137.97 L275.33 138.62 L276.14 139.27 L276.96 139.91 L277.78 140.55 L278.59 141.19 L279.41 141.82 L280.23 142.44 L281.04 143.06 L281.86 143.68 L282.68 144.29 L283.49 144.90 L284.31 145.50 L285.13 146.10 L285.94 146.69 L286.76 147.28 L287.58 147.87 L288.39 148.45 L289.21 149.03 L290.03 149.60 L290.84 150.17 L291.66 150.73 L292.48 151.30 L293.29 151.85 L294.11 152.41 L294.93 152.96 L295.74 153.50 L296.56 154.04 L297.38 154.58 L298.19 155.12 L299.01 155.65 L299.83 156.18 L300.65 156.70 L301.46 157.22 L302.28 157.74 L303.10 158.25 L303.91 158.76 L304.73 159.26 L305.55 159.77 L306.36 160.27 L307.18 160.76 L308.00 161.25 L308.81 161.74 L309.63 162.23 L310.45 162.71 L311.27 163.19 L312.08 163.67 L312.90 164.14 L313.72 164.61 L314.53 165.08 L315.35 165.54 L316.17 166.00 L316.98 166.46 L317.80 166.91 L318.62 167.36 L319.44 167.81 L320.25 168.26 L321.07 168.70 L321.89 169.14 L322.70 169.58 L323.52 170.01 L324.34 170.44 L325.16 170.87 L325.97 171.30 L326.79 171.72 L327.61 172.14 L328.42 172.56 L329.24 172.98 L330.06 173.39 L330.87 173.80 L331.69 174.21 L332.51 174.61 L333.33 175.01 L334.14 175.41 L334.96 175.81 L335.78 176.21 L336.59 176.60 L337.41 176.99 L338.23 177.38 L339.05 177.76 L339.86 178.14 L340.68 178.52 L341.50 178.90 L342.31 179.28 L343.13 179.65 L343.95 180.02 L344.77 180.39 L345.58 180.76 L346.40 181.12 L347.22 181.48 L348.03 181.84 L348.85 182.20 L349.67 182.56 L350.49 182.91 L351.30 183.26 L352.12 183.61 L352.94 183.96 L353.75 184.30 L354.57 184.64 L355.39 184.99 L356.21 185.32 L357.02 185.66 L357.84 186.00 L358.66 186.33 L359.47 186.66 L360.29 186.99 L361.11 187.32 L361.93 187.64 L362.74 187.96 L363.56 188.29 L364.38 188.61 L365.19 188.92 L366.01 189.24 L366.83 189.55 L367.65 189.86 L368.46 190.18 L369.28 190.48 L370.10 190.79 L370.91 191.10 L371.73 191.40 L372.55 191.70 L373.37 192.00 L374.18 192.30 L375.00 192.59 L375.82 192.89 L376.63 193.18 L377.45 193.47 L378.27 193.76 L379.09 194.05 L379.90 194.34 L380.72 194.62 L381.54 194.91 L382.35 195.19 L383.17 195.47 L383.99 195.75 L384.81 196.02 L385.62 196.30 L386.44 196.57 L387.26 196.85 L388.07 197.12 L388.89 197.39 L389.71 197.65 L390.53 197.92 L391.34 198.19 L392.16 198.45 L392.98 198.71 L393.80 198.97 L394.61 199.23 L395.43 199.49 L396.25 199.75 L397.06 200.00 L397.88 200.25 L398.70 200.51 L399.52 200.76 L400.33 201.01 L401.15 201.26 L401.97 201.50 L402.78 201.75 L403.60 201.99 L404.42 202.24 L405.24 202.48 L406.05 202.72 L406.87 202.96 L407.69 203.19 L408.50 203.43 L409.32 203.67 L410.14 203.90 L410.96 204.13 L411.77 204.37 L412.59 204.60 L413.41 204.83 L414.22 205.05 L415.04 205.28 L415.86 205.51 L416.68 205.73 L417.49 205.95 L418.31 206.18 L419.13 206.40 L419.95 206.62 L420.76 206.84 L421.58 207.05 L422.40 207.27 L423.21 207.49 L424.03 207.70 L424.85 207.91 L425.67 208.13 L426.48 208.34 L427.30 208.55 L428.12 208.76 L428.93 208.97 L429.75 209.17 L430.57 209.38 L431.39 209.58 L432.20 209.79" fill="none" stroke="#ff0000" stroke-width="2.70" stroke-linejoin="round" stroke-dasharray="1.9 3.5"/>
<path d="M454.4 272.9 H573" stroke="#00c8d0" stroke-width="2" stroke-dasharray="1.9 3.5" stroke-dashoffset="0" fill="none"/>
<path d="M454.4 272.3 H573" stroke="#14323c" stroke-width="1" fill="none"/>
<path d="M457.5 271.4 H573" stroke="#d80000" stroke-width="0.9" fill="none"/>
<path d="M556 270.5 H573" stroke="#ff0000" stroke-width="1.4" stroke-dasharray="1.8 3.6" fill="none"/>
<path d="M575.82 238.81 L575.85 237.16 L575.88 235.52 L575.92 233.87 L575.95 232.23 L575.99 230.59 L576.03 228.95 L576.07 227.31 L576.12 225.67 L576.16 224.03 L576.21 222.39 L576.26 220.75 L576.31 219.11 L576.36 217.47 L576.41 215.83 L576.47 214.19 L576.52 212.55 L576.58 210.91 L576.64 209.28 L576.70 207.64 L576.76 206.00 L576.83 204.36 L576.89 202.72 L576.96 201.08 L577.02 199.43 L577.09 197.79 L577.16 196.15 L577.23 194.51 L577.30 192.86 L577.37 191.22 L577.45 189.57 L577.52 187.92 L577.60 186.27 L577.67 184.62 L577.75 182.97 L577.82 181.32 L577.90 179.67 L577.98 178.01 L578.06 176.36 L578.14 174.70 L578.22 173.04 L578.30 171.38 L578.38 169.72 L578.47 168.05 L578.55 166.39 L578.64 164.73 L578.74 163.06 L578.84 161.40 L578.94 159.73 L579.05 158.06 L579.16 156.40 L579.28 154.73 L579.40 153.07 L579.53 151.41 L579.67 149.74 L579.82 148.08 L579.98 146.42 L580.14 144.76 L580.31 143.11 L580.50 141.45 L580.69 139.80 L580.89 138.15 L581.11 136.50 L581.33 134.85 L581.57 133.21 L581.82 131.57 L582.09 129.93 L582.36 128.30 L582.66 126.67 L582.96 125.04 L583.28 123.42 L583.62 121.80 L583.97 120.18 L584.34 118.57 L584.72 116.96 L585.13 115.36 L585.55 113.76 L585.98 112.17 L586.44 110.59 L586.92 109.00 L587.41 107.43 L587.93 105.86 L588.47 104.29 L589.02 102.74 L589.60 101.18 L590.21 99.64 L590.83 98.10 L591.48 96.57 L592.15 95.05 L592.84 93.54 L593.55 92.03 L594.29 90.54 L595.06 89.07 L595.84 87.60 L596.65 86.15 L597.49 84.72 L598.35 83.30 L599.23 81.90 L600.14 80.52 L601.07 79.16 L602.03 77.82 L603.01 76.50 L604.02 75.20 L605.06 73.93 L606.12 72.68 L607.21 71.45 L608.32 70.26 L609.46 69.09 L610.63 67.94 L611.82 66.83 L613.03 65.74 L614.27 64.68 L615.52 63.65 L616.80 62.64 L618.10 61.67 L619.42 60.72 L620.75 59.80 L622.10 58.91 L623.47 58.05 L624.85 57.22 L626.25 56.41 L627.67 55.62 L629.10 54.86 L630.54 54.13 L632.00 53.41 L633.47 52.73 L634.96 52.06 L636.45 51.41 L637.96 50.79 L639.48 50.18 L641.02 49.60 L642.56 49.03 L644.11 48.48 L645.67 47.95 L647.24 47.44 L648.82 46.94 L650.41 46.46 L652.01 45.99 L653.61 45.53 L655.22 45.09 L656.84 44.66 L658.46 44.25 L660.09 43.84 L661.72 43.45 L663.36 43.07 L665.00 42.69 L666.65 42.32 L668.30 41.97 L669.95 41.62 L671.61 41.27 L673.26 40.93 L674.92 40.60 L676.58 40.27 L678.24 39.95 L679.90 39.63 L681.55 39.31 L683.21 39.00 L684.87 38.68 L686.52 38.37 L688.17 38.05 L689.82 37.74 L691.47 37.42 L693.11 37.11 L694.76 36.79 L696.39 36.48 L698.03 36.16 L699.67 35.84 L701.30 35.53 L702.93 35.21 L704.56 34.90 L706.19 34.58 L707.81 34.26 L709.43 33.95 L711.06 33.63 L712.68 33.32 L714.29 33.00 L715.91 32.69 L717.53 32.37 L719.14 32.06 L720.76 31.75 L722.37 31.44 L723.98 31.13 L725.59 30.82 L727.20 30.51 L728.81 30.20 L730.42 29.90 L732.02 29.59 L733.63 29.29 L735.24 28.98 L736.84 28.68 L738.45 28.38 L740.05 28.09 L741.66 27.79 L743.26 27.50 L744.87 27.20 L746.47 26.91 L748.08 26.62 L749.68 26.34 L751.29 26.05 L752.90 25.77 L754.50 25.49 L756.11 25.21 L757.72 24.93 L759.33 24.66 L760.94 24.39 L762.55 24.12 L764.16 23.86 L765.77 23.59 L767.39 23.33 L769.00 23.07 L770.62 22.82 L772.24 22.57 L773.86 22.32 L775.48 22.07 L777.10 21.83 L778.72 21.59 L780.35 21.36 L781.97 21.12 L783.60 20.89 L785.24 20.67 L786.87 20.45 L788.50 20.23 L790.14 20.01 L791.78 19.80 L793.43 19.60 L795.07 19.39 L796.72 19.19 L798.37 19.00 L800.02 18.81 L801.68 18.62 L803.34 18.44 L805.00 18.26 L806.66 18.09 L808.33 17.92 L810.00 17.75 L811.67 17.59 L813.35 17.44 L815.03 17.29 L816.72 17.14 L818.41 17.00" fill="none" stroke="#006400" stroke-width="3.30" stroke-linejoin="round" shape-rendering="crispEdges"/>
<rect x="820.0" y="15.5" width="1.1" height="3" fill="#006400" shape-rendering="crispEdges"/>
<path d="M575.50 240.00 L575.47 238.42 L575.45 236.85 L575.42 235.28 L575.40 233.72 L575.38 232.16 L575.37 230.61 L575.35 229.06 L575.34 227.52 L575.34 225.98 L575.33 224.44 L575.33 222.91 L575.33 221.38 L575.33 219.86 L575.33 218.34 L575.33 216.82 L575.34 215.30 L575.35 213.79 L575.36 212.28 L575.38 210.77 L575.39 209.27 L575.41 207.77 L575.43 206.26 L575.45 204.77 L575.47 203.27 L575.50 201.77 L575.52 200.28 L575.55 198.78 L575.58 197.29 L575.61 195.80 L575.64 194.31 L575.68 192.82 L575.71 191.33 L575.75 189.84 L575.79 188.35 L575.82 186.85 L575.86 185.36 L575.91 183.87 L575.95 182.38 L575.99 180.89 L576.04 179.39 L576.08 177.90 L576.13 176.40 L576.18 174.90 L576.23 173.40 L576.27 171.90 L576.32 170.39 L576.38 168.89 L576.43 167.38 L576.48 165.87 L576.53 164.35 L576.58 162.84 L576.64 161.32 L576.69 159.79 L576.75 158.26 L576.80 156.73 L576.86 155.20 L576.91 153.66 L576.97 152.12 L577.02 150.57 L577.08 149.02 L577.14 147.47 L577.20 145.91 L577.26 144.35 L577.32 142.78 L577.40 141.22 L577.47 139.65 L577.55 138.08 L577.64 136.52 L577.74 134.95 L577.85 133.38 L577.97 131.82 L578.10 130.26 L578.24 128.70 L578.39 127.15 L578.56 125.60 L578.75 124.05 L578.95 122.51 L579.16 120.98 L579.40 119.45 L579.65 117.93 L579.93 116.42 L580.22 114.91 L580.54 113.42 L580.88 111.93 L581.24 110.46 L581.62 108.99 L582.04 107.54 L582.48 106.09 L582.94 104.66 L583.44 103.25 L583.96 101.84 L584.51 100.45 L585.10 99.08 L585.72 97.72 L586.36 96.38 L587.04 95.05 L587.75 93.74 L588.50 92.45 L589.27 91.18 L590.07 89.93 L590.90 88.70 L591.77 87.49 L592.66 86.31 L593.58 85.15 L594.54 84.01 L595.52 82.90 L596.53 81.81 L597.57 80.75 L598.64 79.72 L599.73 78.72 L600.86 77.74 L602.01 76.80 L603.19 75.88 L604.40 74.99 L605.63 74.14 L606.89 73.30 L608.17 72.50 L609.46 71.72 L610.78 70.96 L612.12 70.22 L613.47 69.51 L614.83 68.82 L616.21 68.14 L617.60 67.49 L619.00 66.85 L620.40 66.23 L621.82 65.63 L623.24 65.04 L624.67 64.46 L626.09 63.89 L627.53 63.34 L628.96 62.80 L630.40 62.27 L631.84 61.75 L633.28 61.25 L634.73 60.75 L636.18 60.26 L637.63 59.79 L639.08 59.32 L640.54 58.86 L642.00 58.42 L643.46 57.98 L644.92 57.55 L646.38 57.13 L647.85 56.72 L649.32 56.31 L650.79 55.91 L652.26 55.52 L653.73 55.14 L655.21 54.76 L656.69 54.39 L658.16 54.03 L659.64 53.67 L661.13 53.32 L662.61 52.97 L664.09 52.63 L665.58 52.29 L667.06 51.96 L668.55 51.63 L670.03 51.30 L671.52 50.98 L673.01 50.66 L674.50 50.35 L675.99 50.04 L677.48 49.73 L678.97 49.42 L680.46 49.11 L681.95 48.81 L683.44 48.51 L684.94 48.20 L686.43 47.90 L687.92 47.60 L689.41 47.30 L690.90 47.00 L692.39 46.70 L693.88 46.40 L695.37 46.10 L696.86 45.80 L698.35 45.51 L699.85 45.21 L701.34 44.91 L702.83 44.61 L704.32 44.32 L705.81 44.02 L707.30 43.73 L708.79 43.43 L710.28 43.14 L711.77 42.85 L713.26 42.56 L714.75 42.27 L716.24 41.98 L717.73 41.69 L719.22 41.40 L720.72 41.11 L722.21 40.83 L723.70 40.54 L725.19 40.26 L726.68 39.98 L728.17 39.70 L729.66 39.42 L731.16 39.14 L732.65 38.87 L734.14 38.59 L735.63 38.32 L737.13 38.05 L738.62 37.78 L740.11 37.51 L741.61 37.24 L743.10 36.97 L744.60 36.71 L746.09 36.45 L747.59 36.19 L749.08 35.93 L750.58 35.68 L752.07 35.42 L753.57 35.17 L755.07 34.92 L756.56 34.67 L758.06 34.43 L759.56 34.18 L761.06 33.94 L762.55 33.70 L764.05 33.46 L765.55 33.23 L767.05 33.00 L768.55 32.77 L770.05 32.54 L771.56 32.31 L773.06 32.09 L774.56 31.87 L776.06 31.65 L777.57 31.44 L779.07 31.23 L780.58 31.02 L782.08 30.81 L783.59 30.61 L785.09 30.41 L786.60 30.21 L788.11 30.02 L789.61 29.82 L791.12 29.64 L792.63 29.45 L794.14 29.27 L795.65 29.09 L797.17 28.91 L798.68 28.74 L800.19 28.57 L801.70 28.40 L803.22 28.24 L804.73 28.08 L806.25 27.93 L807.76 27.77 L809.28 27.62 L810.80 27.48 L812.32 27.34 L813.84 27.20 L815.36 27.06 L816.88 26.93 L818.40 26.81" fill="none" stroke="#0000ff" stroke-width="3.30" stroke-linejoin="round" shape-rendering="crispEdges"/>
<rect x="820.0" y="25.3" width="1.1" height="3" fill="#0000ff" shape-rendering="crispEdges"/>
<path d="M573.41 148.61 L573.31 147.49 L573.23 146.38 L573.16 145.26 L573.12 144.14 L573.10 143.02 L573.10 141.89 L573.13 140.77 L573.17 139.66 L573.24 138.54 L573.33 137.43 L573.45 136.32 L573.59 135.22 L573.76 134.13 L573.95 133.05 L574.16 131.97 L574.40 130.90 L574.67 129.84 L574.96 128.80 L575.28 127.77 L575.62 126.75 L575.99 125.74 L576.39 124.75 L576.82 123.77 L577.27 122.81 L577.75 121.87 L578.25 120.94 L578.78 120.03 L579.34 119.13 L579.92 118.26 L580.52 117.39 L581.15 116.55 L581.80 115.73 L582.48 114.92 L583.18 114.14 L583.90 113.37 L584.64 112.62 L585.41 111.90 L586.19 111.19 L587.00 110.50 L587.83 109.83 L588.67 109.18 L589.53 108.55 L590.41 107.93 L591.31 107.33 L592.22 106.75 L593.14 106.18 L594.08 105.62 L595.02 105.08 L595.98 104.54 L596.95 104.03 L597.93 103.52 L598.91 103.02 L599.90 102.53 L600.90 102.05 L601.91 101.58 L602.91 101.12 L603.92 100.66 L604.93 100.21 L605.95 99.76 L606.96 99.32 L607.98 98.88 L608.99 98.45 L610.00 98.03 L611.02 97.60 L612.04 97.19 L613.05 96.77 L614.07 96.36 L615.09 95.96 L616.10 95.56 L617.12 95.16 L618.14 94.76 L619.16 94.37 L620.18 93.99 L621.20 93.61 L622.22 93.23 L623.24 92.85 L624.26 92.48 L625.29 92.11 L626.31 91.74 L627.33 91.38 L628.36 91.02 L629.38 90.66 L630.41 90.31 L631.43 89.96 L632.46 89.61 L633.49 89.26 L634.52 88.92 L635.55 88.57 L636.58 88.23 L637.61 87.90 L638.64 87.56 L639.67 87.23 L640.70 86.90 L641.74 86.57 L642.77 86.24 L643.80 85.92 L644.84 85.59 L645.88 85.27 L646.91 84.95 L647.95 84.63 L648.99 84.32 L650.03 84.01 L651.07 83.70 L652.11 83.39 L653.15 83.08 L654.19 82.78 L655.24 82.47 L656.28 82.17 L657.32 81.87 L658.37 81.58 L659.41 81.28 L660.46 80.99 L661.50 80.70 L662.55 80.41 L663.60 80.12 L664.65 79.84 L665.70 79.56 L666.75 79.28 L667.80 79.00 L668.85 78.72 L669.90 78.45 L670.95 78.17 L672.00 77.90 L673.06 77.64 L674.11 77.37 L675.16 77.10 L676.22 76.84 L677.27 76.58 L678.33 76.32 L679.39 76.07 L680.44 75.81 L681.50 75.56 L682.56 75.31 L683.62 75.06 L684.68 74.81 L685.74 74.57 L686.80 74.32 L687.86 74.08 L688.92 73.84 L689.98 73.61 L691.04 73.37 L692.10 73.14 L693.17 72.91 L694.23 72.68 L695.30 72.45 L696.36 72.22 L697.42 72.00 L698.49 71.78 L699.56 71.56 L700.62 71.34 L701.69 71.13 L702.76 70.91 L703.82 70.70 L704.89 70.49 L705.96 70.28 L707.03 70.08 L708.10 69.87 L709.17 69.67 L710.24 69.47 L711.31 69.27 L712.38 69.07 L713.45 68.88 L714.52 68.68 L715.60 68.49 L716.67 68.30 L717.74 68.12 L718.81 67.93 L719.89 67.75 L720.96 67.57 L722.04 67.39 L723.11 67.21 L724.19 67.03 L725.26 66.86 L726.34 66.69 L727.41 66.52 L728.49 66.35 L729.56 66.18 L730.64 66.01 L731.72 65.85 L732.80 65.69 L733.87 65.53 L734.95 65.37 L736.03 65.22 L737.11 65.06 L738.19 64.91 L739.27 64.76 L740.35 64.61 L741.42 64.47 L742.50 64.32 L743.58 64.18 L744.67 64.04 L745.75 63.90 L746.83 63.76 L747.91 63.63 L748.99 63.49 L750.07 63.36 L751.15 63.23 L752.23 63.10 L753.32 62.98 L754.40 62.85 L755.48 62.73 L756.56 62.61 L757.64 62.49 L758.73 62.37 L759.81 62.26 L760.89 62.14 L761.98 62.03 L763.06 61.92 L764.14 61.81 L765.23 61.70 L766.31 61.60 L767.40 61.49 L768.48 61.39 L769.56 61.29 L770.65 61.20 L771.73 61.10 L772.82 61.01 L773.90 60.91 L774.99 60.82 L776.07 60.73 L777.16 60.64 L778.24 60.56 L779.33 60.48 L780.41 60.39 L781.50 60.31 L782.58 60.23 L783.67 60.16 L784.75 60.08 L785.84 60.01 L786.93 59.94 L788.01 59.87 L789.10 59.80 L790.18 59.73 L791.27 59.67 L792.35 59.60 L793.44 59.54 L794.52 59.48 L795.61 59.42 L796.70 59.37 L797.78 59.31 L798.87 59.26 L799.95 59.21 L801.04 59.16 L802.12 59.11 L803.21 59.07 L804.29 59.02 L805.38 58.98 L806.47 58.94 L807.55 58.90 L808.64 58.86 L809.72 58.82 L810.81 58.79 L811.89 58.76 L812.98 58.73 L814.06 58.70 L815.15 58.67 L816.23 58.64 L817.31 58.62 L818.40 58.60" fill="none" stroke="#ffa500" stroke-width="3.30" stroke-linejoin="round" shape-rendering="crispEdges"/>
<rect x="820.0" y="57.1" width="1.1" height="3" fill="#ffa500" shape-rendering="crispEdges"/>
<path d="M570.59 166.40 L570.43 165.21 L570.33 164.05 L570.30 162.93 L570.33 161.84 L570.43 160.78 L570.59 159.76 L570.80 158.76 L571.07 157.79 L571.39 156.85 L571.76 155.94 L572.18 155.06 L572.64 154.20 L573.15 153.36 L573.69 152.55 L574.28 151.76 L574.90 151.00 L575.55 150.25 L576.23 149.53 L576.94 148.82 L577.67 148.13 L578.44 147.46 L579.22 146.81 L580.02 146.17 L580.85 145.55 L581.69 144.94 L582.55 144.34 L583.43 143.76 L584.32 143.19 L585.22 142.62 L586.13 142.07 L587.06 141.53 L587.98 141.00 L588.92 140.47 L589.86 139.95 L590.80 139.43 L591.74 138.92 L592.68 138.41 L593.63 137.91 L594.57 137.41 L595.52 136.92 L596.46 136.43 L597.41 135.95 L598.36 135.47 L599.31 134.99 L600.26 134.52 L601.21 134.05 L602.16 133.59 L603.11 133.13 L604.07 132.67 L605.02 132.22 L605.97 131.77 L606.93 131.33 L607.89 130.89 L608.84 130.45 L609.80 130.02 L610.76 129.59 L611.72 129.17 L612.68 128.75 L613.64 128.33 L614.60 127.92 L615.57 127.51 L616.53 127.11 L617.50 126.70 L618.46 126.30 L619.43 125.91 L620.40 125.52 L621.37 125.13 L622.34 124.74 L623.31 124.36 L624.28 123.98 L625.25 123.61 L626.22 123.24 L627.19 122.87 L628.17 122.50 L629.14 122.14 L630.12 121.78 L631.10 121.43 L632.08 121.07 L633.05 120.72 L634.03 120.38 L635.02 120.03 L636.00 119.69 L636.98 119.35 L637.96 119.02 L638.95 118.68 L639.93 118.35 L640.92 118.02 L641.90 117.70 L642.89 117.38 L643.88 117.06 L644.87 116.74 L645.86 116.43 L646.85 116.11 L647.84 115.80 L648.84 115.50 L649.83 115.19 L650.83 114.89 L651.82 114.59 L652.82 114.29 L653.82 114.00 L654.82 113.70 L655.82 113.41 L656.82 113.12 L657.82 112.83 L658.82 112.55 L659.82 112.27 L660.83 111.99 L661.83 111.71 L662.84 111.43 L663.84 111.16 L664.85 110.89 L665.86 110.62 L666.87 110.35 L667.88 110.09 L668.89 109.82 L669.90 109.56 L670.91 109.31 L671.92 109.05 L672.94 108.80 L673.95 108.55 L674.96 108.30 L675.98 108.05 L677.00 107.81 L678.01 107.57 L679.03 107.33 L680.05 107.09 L681.07 106.86 L682.09 106.63 L683.11 106.40 L684.13 106.17 L685.15 105.95 L686.17 105.73 L687.20 105.51 L688.22 105.29 L689.25 105.07 L690.27 104.86 L691.30 104.65 L692.32 104.45 L693.35 104.24 L694.38 104.04 L695.40 103.84 L696.43 103.64 L697.46 103.45 L698.49 103.25 L699.52 103.06 L700.55 102.88 L701.58 102.69 L702.61 102.51 L703.65 102.33 L704.68 102.16 L705.71 101.98 L706.74 101.81 L707.78 101.64 L708.81 101.47 L709.85 101.31 L710.88 101.15 L711.92 100.99 L712.95 100.84 L713.99 100.68 L715.03 100.53 L716.07 100.38 L717.10 100.24 L718.14 100.10 L719.18 99.96 L720.22 99.82 L721.26 99.68 L722.30 99.55 L723.34 99.42 L724.38 99.30 L725.42 99.17 L726.46 99.05 L727.50 98.94 L728.54 98.82 L729.58 98.71 L730.62 98.60 L731.66 98.49 L732.71 98.39 L733.75 98.29 L734.79 98.19 L735.84 98.09 L736.88 98.00 L737.92 97.91 L738.97 97.82 L740.01 97.74 L741.05 97.66 L742.10 97.58 L743.14 97.51 L744.19 97.43 L745.23 97.36 L746.28 97.30 L747.32 97.23 L748.37 97.17 L749.41 97.11 L750.46 97.06 L751.50 97.01 L752.55 96.96 L753.59 96.91 L754.64 96.87 L755.68 96.83 L756.73 96.79 L757.77 96.76 L758.82 96.73 L759.87 96.70 L760.91 96.67 L761.96 96.65 L763.00 96.63 L764.05 96.62 L765.09 96.60 L766.14 96.59 L767.19 96.59 L768.23 96.58 L769.28 96.58 L770.32 96.59 L771.37 96.59 L772.41 96.60 L773.46 96.61 L774.50 96.63 L775.55 96.65 L776.59 96.67 L777.64 96.69 L778.68 96.72 L779.73 96.75 L780.77 96.78 L781.82 96.82 L782.86 96.86 L783.90 96.91 L784.95 96.95 L785.99 97.00 L787.04 97.06 L788.08 97.11 L789.12 97.17 L790.16 97.24 L791.21 97.30 L792.25 97.37 L793.29 97.44 L794.33 97.52 L795.37 97.60 L796.41 97.68 L797.46 97.77 L798.50 97.86 L799.54 97.95 L800.58 98.05 L801.62 98.15 L802.65 98.25 L803.69 98.36 L804.73 98.47 L805.77 98.58 L806.81 98.70 L807.85 98.81 L808.88 98.94 L809.92 99.06 L810.96 99.19 L811.99 99.33 L813.03 99.47 L814.06 99.61 L815.10 99.75 L816.13 99.90 L817.16 100.05 L818.20 100.20" fill="none" stroke="#bf00ff" stroke-width="3.30" stroke-linejoin="round" shape-rendering="crispEdges"/>
<rect x="820.0" y="98.7" width="1.1" height="3" fill="#bf00ff" shape-rendering="crispEdges"/>
<path d="M572.18 192.30 L572.27 191.19 L572.41 190.13 L572.62 189.11 L572.89 188.13 L573.22 187.19 L573.59 186.28 L574.02 185.41 L574.49 184.58 L575.01 183.77 L575.57 183.00 L576.17 182.26 L576.80 181.55 L577.47 180.86 L578.17 180.20 L578.90 179.57 L579.65 178.95 L580.43 178.36 L581.23 177.79 L582.05 177.23 L582.89 176.69 L583.75 176.17 L584.63 175.66 L585.52 175.17 L586.42 174.68 L587.33 174.20 L588.25 173.74 L589.18 173.28 L590.11 172.82 L591.04 172.37 L591.98 171.92 L592.91 171.47 L593.84 171.02 L594.78 170.58 L595.71 170.14 L596.65 169.70 L597.59 169.26 L598.52 168.83 L599.46 168.39 L600.40 167.96 L601.33 167.53 L602.27 167.11 L603.21 166.68 L604.15 166.26 L605.09 165.84 L606.03 165.42 L606.97 165.01 L607.91 164.59 L608.85 164.18 L609.80 163.77 L610.74 163.36 L611.68 162.96 L612.62 162.56 L613.57 162.16 L614.51 161.76 L615.46 161.36 L616.40 160.97 L617.35 160.58 L618.30 160.19 L619.24 159.80 L620.19 159.42 L621.14 159.04 L622.09 158.66 L623.04 158.28 L623.99 157.91 L624.94 157.54 L625.89 157.17 L626.84 156.80 L627.79 156.43 L628.75 156.07 L629.70 155.71 L630.65 155.35 L631.61 155.00 L632.56 154.65 L633.52 154.30 L634.48 153.95 L635.43 153.60 L636.39 153.26 L637.35 152.92 L638.31 152.58 L639.27 152.25 L640.23 151.92 L641.19 151.59 L642.15 151.26 L643.12 150.93 L644.08 150.61 L645.05 150.29 L646.01 149.98 L646.98 149.66 L647.94 149.35 L648.91 149.04 L649.88 148.74 L650.85 148.43 L651.82 148.13 L652.79 147.83 L653.76 147.54 L654.73 147.25 L655.70 146.96 L656.67 146.67 L657.65 146.38 L658.62 146.10 L659.60 145.82 L660.58 145.55 L661.55 145.27 L662.53 145.00 L663.51 144.74 L664.49 144.47 L665.47 144.21 L666.45 143.95 L667.43 143.69 L668.42 143.44 L669.40 143.19 L670.39 142.94 L671.37 142.70 L672.36 142.46 L673.35 142.22 L674.33 141.98 L675.32 141.75 L676.31 141.52 L677.30 141.29 L678.30 141.07 L679.29 140.84 L680.28 140.63 L681.27 140.41 L682.27 140.20 L683.26 139.99 L684.26 139.78 L685.26 139.58 L686.25 139.38 L687.25 139.18 L688.25 138.99 L689.25 138.80 L690.25 138.61 L691.25 138.43 L692.25 138.24 L693.25 138.07 L694.26 137.89 L695.26 137.72 L696.26 137.55 L697.27 137.39 L698.27 137.22 L699.28 137.06 L700.28 136.91 L701.29 136.75 L702.30 136.60 L703.30 136.46 L704.31 136.32 L705.32 136.18 L706.33 136.04 L707.34 135.91 L708.34 135.78 L709.35 135.65 L710.36 135.53 L711.38 135.41 L712.39 135.29 L713.40 135.18 L714.41 135.07 L715.42 134.96 L716.43 134.86 L717.45 134.76 L718.46 134.66 L719.47 134.57 L720.49 134.48 L721.50 134.39 L722.51 134.31 L723.53 134.23 L724.54 134.15 L725.56 134.08 L726.57 134.01 L727.59 133.95 L728.60 133.89 L729.62 133.83 L730.63 133.77 L731.65 133.72 L732.66 133.68 L733.68 133.63 L734.70 133.59 L735.71 133.56 L736.73 133.52 L737.74 133.49 L738.76 133.47 L739.78 133.44 L740.79 133.43 L741.81 133.41 L742.83 133.40 L743.84 133.39 L744.86 133.39 L745.87 133.39 L746.89 133.39 L747.91 133.40 L748.92 133.41 L749.94 133.43 L750.96 133.44 L751.97 133.47 L752.99 133.49 L754.00 133.52 L755.02 133.56 L756.03 133.59 L757.05 133.63 L758.06 133.68 L759.08 133.73 L760.09 133.78 L761.11 133.84 L762.12 133.90 L763.14 133.96 L764.15 134.03 L765.16 134.10 L766.18 134.18 L767.19 134.26 L768.20 134.34 L769.22 134.43 L770.23 134.52 L771.24 134.62 L772.25 134.72 L773.26 134.82 L774.27 134.93 L775.28 135.04 L776.29 135.16 L777.30 135.28 L778.31 135.40 L779.32 135.53 L780.33 135.66 L781.34 135.80 L782.34 135.94 L783.35 136.09 L784.36 136.23 L785.36 136.39 L786.37 136.54 L787.37 136.70 L788.38 136.87 L789.38 137.04 L790.38 137.21 L791.39 137.39 L792.39 137.57 L793.39 137.76 L794.39 137.95 L795.39 138.14 L796.39 138.34 L797.39 138.55 L798.39 138.75 L799.39 138.97 L800.38 139.18 L801.38 139.40 L802.38 139.63 L803.37 139.86 L804.36 140.09 L805.36 140.33 L806.35 140.57 L807.34 140.81 L808.33 141.07 L809.32 141.32 L810.31 141.58 L811.30 141.84 L812.29 142.11 L813.28 142.38 L814.26 142.66 L815.25 142.94 L816.23 143.23 L817.22 143.52 L818.20 143.82" fill="none" stroke="#00eeee" stroke-width="3.30" stroke-linejoin="round" shape-rendering="crispEdges"/>
<rect x="820.0" y="142.3" width="1.1" height="3" fill="#00eeee" shape-rendering="crispEdges"/>
<path d="M575.3 272 V240" stroke="#0000ff" stroke-width="2.2" stroke-dasharray="1.8 3.6" fill="none"/>
<path d="M575.50 272.00 L575.56 264.13 L575.62 260.88 L575.68 258.38 L575.75 256.28 L575.81 254.43 L575.87 252.76 L575.93 251.22 L575.99 249.80 L576.05 248.46 L576.11 247.19 L576.18 245.99 L576.24 244.84 L576.30 243.74 L576.36 242.68 L576.42 241.66 L576.48 240.68 L576.54 239.72 L576.61 238.80 L576.67 237.90 L576.73 237.02 L576.79 236.17 L576.85 235.34 L576.91 234.53 L576.97 233.73 L577.04 232.96 L577.10 232.20 L577.16 231.45 L577.22 230.72 L577.28 230.00 L577.34 229.30 L577.40 228.60 L577.47 227.92 L577.53 227.25 L577.59 226.59 L577.65 225.95 L577.71 225.31 L577.77 224.68 L577.83 224.06 L577.90 223.44 L577.96 222.84 L578.02 222.25 L578.08 221.66 L578.14 221.08 L578.20 220.51 L578.26 219.94 L578.33 219.38 L578.39 218.83 L578.45 218.28 L578.51 217.74 L578.57 217.21 L578.63 216.68 L578.69 216.16 L578.76 215.64 L578.82 215.13 L578.88 214.62 L578.94 214.12 L579.00 213.62 L579.06 213.13 L579.12 212.64 L579.19 212.16 L579.25 211.68 L579.31 211.21 L579.37 210.74 L579.43 210.27 L579.49 209.81 L579.55 209.35 L579.61 208.90 L579.68 208.45 L579.74 208.00 L579.80 207.56 L579.86 207.12 L579.92 206.69 L579.98 206.25 L580.04 205.83 L580.11 205.40 L580.17 204.98 L580.23 204.56 L580.29 204.14 L580.35 203.73 L580.95 199.85 L581.55 196.22 L582.15 192.79 L582.75 189.54 L583.34 186.45 L583.94 183.50 L584.54 180.68 L585.14 177.97 L585.74 175.38 L586.34 172.87 L586.94 170.46 L587.54 168.13 L588.13 165.88 L588.73 163.70 L589.33 161.58 L589.93 159.53 L590.53 157.54 L591.13 155.60 L591.73 153.72 L592.32 151.89 L592.92 150.10 L593.52 148.36 L594.12 146.67 L594.72 145.01 L595.32 143.40 L595.92 141.82 L596.51 140.28 L597.11 138.77 L597.71 137.29 L598.31 135.85 L598.91 134.44 L599.51 133.06" fill="none" stroke="#a80000" stroke-width="1.00" stroke-linejoin="round"/>
<path d="M599.51 133.06 L600.11 131.70 L600.70 130.38 L601.30 129.08 L601.90 127.80 L602.50 126.55 L603.10 125.32 L603.70 124.12 L604.30 122.94 L604.89 121.78 L605.49 120.64 L606.09 119.53 L606.69 118.43 L607.29 117.35 L607.89 116.29 L608.49 115.25 L609.08 114.22 L609.68 113.22 L610.28 112.23 L610.88 111.25 L611.48 110.29 L612.08 109.35 L612.68 108.42 L613.27 107.51 L613.87 106.61 L614.47 105.73 L615.07 104.86 L615.67 104.00 L616.27 103.16 L616.87 102.32 L617.46 101.50 L618.06 100.70 L618.66 99.90 L619.26 99.12 L619.86 98.34 L620.46 97.58 L621.06 96.83 L621.66 96.09 L622.25 95.36 L622.85 94.64 L623.45 93.93 L624.05 93.23 L624.65 92.54 L625.25 91.86 L625.85 91.19 L626.44 90.52 L627.04 89.87 L627.64 89.22 L628.24 88.59 L628.84 87.96 L629.44 87.34 L630.04 86.72 L630.63 86.12 L631.23 85.52 L631.83 84.93 L632.43 84.35 L633.03 83.77 L633.63 83.21 L634.23 82.64 L634.82 82.09 L635.42 81.54 L636.02 81.00 L636.62 80.47 L637.22 79.94 L637.82 79.42 L638.42 78.90 L639.01 78.39 L639.61 77.89 L640.21 77.39 L640.81 76.90 L641.41 76.41 L642.01 75.93 L642.61 75.46 L643.20 74.99 L643.80 74.53 L644.40 74.07 L645.00 73.61 L645.60 73.16 L646.20 72.72 L646.80 72.28 L647.39 71.85 L647.99 71.42 L648.59 70.99 L649.19 70.57 L649.79 70.16 L650.39 69.75 L650.99 69.34 L651.58 68.94 L652.18 68.54 L652.78 68.15 L653.38 67.76 L653.98 67.37 L654.58 66.99 L655.18 66.61 L655.78 66.24 L656.37 65.87 L656.97 65.50 L657.57 65.14 L658.17 64.78 L658.77 64.43 L659.37 64.08 L659.97 63.73 L660.56 63.38 L661.16 63.04 L661.76 62.70 L662.36 62.37 L662.96 62.04 L663.56 61.71 L664.16 61.39 L664.75 61.06 L665.35 60.75 L665.95 60.43 L666.55 60.12 L667.15 59.81 L667.75 59.50 L668.35 59.20 L668.94 58.90 L669.54 58.60 L670.14 58.30 L670.74 58.01 L671.34 57.72 L671.94 57.44 L672.54 57.15 L673.13 56.87 L673.73 56.59 L674.33 56.31 L674.93 56.04 L675.53 55.77 L676.13 55.50 L676.73 55.23 L677.32 54.97 L677.92 54.70 L678.52 54.45 L679.12 54.19 L679.72 53.93 L680.32 53.68 L680.92 53.43 L681.51 53.18 L682.11 52.93 L682.71 52.69 L683.31 52.45 L683.91 52.21 L684.51 51.97 L685.11 51.73 L685.70 51.50 L686.30 51.26 L686.90 51.03 L687.50 50.81 L688.10 50.58 L688.70 50.36 L689.30 50.13 L689.90 49.91 L690.49 49.69 L691.09 49.47 L691.69 49.26 L692.29 49.05 L692.89 48.83 L693.49 48.62 L694.09 48.41 L694.68 48.21 L695.28 48.00 L695.88 47.80 L696.48 47.60 L697.08 47.39 L697.68 47.20 L698.28 47.00 L698.87 46.80 L699.47 46.61 L700.07 46.41 L700.67 46.22 L701.27 46.03 L701.87 45.84 L702.47 45.66 L703.06 45.47 L703.66 45.29 L704.26 45.10 L704.86 44.92 L705.46 44.74 L706.06 44.56 L706.66 44.38 L707.25 44.21 L707.85 44.03 L708.45 43.86 L709.05 43.69 L709.65 43.52 L710.25 43.35 L710.85 43.18 L711.44 43.01 L712.04 42.84 L712.64 42.68 L713.24 42.51 L713.84 42.35 L714.44 42.19 L715.04 42.03 L715.63 41.87 L716.23 41.71 L716.83 41.55 L717.43 41.40 L718.03 41.24 L718.63 41.09 L719.23 40.93 L719.82 40.78 L720.42 40.63 L721.02 40.48 L721.62 40.33 L722.22 40.18 L722.82 40.04 L723.42 39.89 L724.01 39.75 L724.61 39.60 L725.21 39.46 L725.81 39.32 L726.41 39.17 L727.01 39.03 L727.61 38.89 L728.21 38.76 L728.80 38.62 L729.40 38.48 L730.00 38.34 L730.60 38.21 L731.20 38.08 L731.80 37.94 L732.40 37.81 L732.99 37.68 L733.59 37.55 L734.19 37.42 L734.79 37.29 L735.39 37.16 L735.99 37.03 L736.59 36.90 L737.18 36.78 L737.78 36.65 L738.38 36.53 L738.98 36.40 L739.58 36.28 L740.18 36.16 L740.78 36.03 L741.37 35.91 L741.97 35.79 L742.57 35.67 L743.17 35.55 L743.77 35.43 L744.37 35.32 L744.97 35.20 L745.56 35.08 L746.16 34.97 L746.76 34.85 L747.36 34.74 L747.96 34.62 L748.56 34.51 L749.16 34.40 L749.75 34.29 L750.35 34.17 L750.95 34.06 L751.55 33.95 L752.15 33.84 L752.75 33.74 L753.35 33.63 L753.94 33.52 L754.54 33.41 L755.14 33.31 L755.74 33.20 L756.34 33.09 L756.94 32.99 L757.54 32.88 L758.13 32.78 L758.73 32.68 L759.33 32.57 L759.93 32.47 L760.53 32.37 L761.13 32.27 L761.73 32.17 L762.33 32.07 L762.92 31.97 L763.52 31.87 L764.12 31.77 L764.72 31.67 L765.32 31.57 L765.92 31.48 L766.52 31.38 L767.11 31.28 L767.71 31.19 L768.31 31.09 L768.91 31.00 L769.51 30.90 L770.11 30.81 L770.71 30.71 L771.30 30.62 L771.90 30.53 L772.50 30.44 L773.10 30.34 L773.70 30.25 L774.30 30.16 L774.90 30.07 L775.49 29.98 L776.09 29.89 L776.69 29.80 L777.29 29.71 L777.89 29.62 L778.49 29.53 L779.09 29.45 L779.68 29.36 L780.28 29.27 L780.88 29.19 L781.48 29.10 L782.08 29.01 L782.68 28.93 L783.28 28.84 L783.87 28.76 L784.47 28.67 L785.07 28.59 L785.67 28.50 L786.27 28.42 L786.87 28.34 L787.47 28.25 L788.06 28.17 L788.66 28.09 L789.26 28.01 L789.86 27.93 L790.46 27.85 L791.06 27.76 L791.66 27.68 L792.25 27.60 L792.85 27.52 L793.45 27.44 L794.05 27.36 L794.65 27.29 L795.25 27.21 L795.85 27.13 L796.45 27.05 L797.04 26.97 L797.64 26.90 L798.24 26.82 L798.84 26.74 L799.44 26.66 L800.04 26.59 L800.64 26.51 L801.23 26.44 L801.83 26.36 L802.43 26.29 L803.03 26.21 L803.63 26.14 L804.23 26.06 L804.83 25.99 L805.42 25.91 L806.02 25.84 L806.62 25.77 L807.22 25.69 L807.82 25.62 L808.42 25.55 L809.02 25.47 L809.61 25.40 L810.21 25.33 L810.81 25.26 L811.41 25.19 L812.01 25.12 L812.61 25.04 L813.21 24.97 L813.80 24.90 L814.40 24.83 L815.00 24.76 L815.60 24.69 L816.20 24.62 L816.80 24.55 L817.40 24.48 L817.99 24.42 L818.59 24.35 L819.19 24.28" fill="none" stroke="#ff0000" stroke-width="1.20" stroke-linejoin="round"/>
<path d="M576.67 237.90 L576.73 237.02 L576.79 236.17 L576.85 235.34 L576.91 234.53 L576.97 233.73 L577.04 232.96 L577.10 232.20 L577.16 231.45 L577.22 230.72 L577.28 230.00 L577.34 229.30 L577.40 228.60 L577.47 227.92 L577.53 227.25 L577.59 226.59 L577.65 225.95 L577.71 225.31 L577.77 224.68 L577.83 224.06 L577.90 223.44 L577.96 222.84 L578.02 222.25 L578.08 221.66 L578.14 221.08 L578.20 220.51 L578.26 219.94 L578.33 219.38 L578.39 218.83 L578.45 218.28 L578.51 217.74 L578.57 217.21 L578.63 216.68 L578.69 216.16 L578.76 215.64 L578.82 215.13 L578.88 214.62 L578.94 214.12 L579.00 213.62 L579.06 213.13 L579.12 212.64 L579.19 212.16 L579.25 211.68 L579.31 211.21 L579.37 210.74 L579.43 210.27 L579.49 209.81 L579.55 209.35 L579.61 208.90 L579.68 208.45 L579.74 208.00 L579.80 207.56 L579.86 207.12 L579.92 206.69 L579.98 206.25 L580.04 205.83 L580.11 205.40 L580.17 204.98 L580.23 204.56 L580.29 204.14 L580.35 203.73 L580.95 199.85 L581.55 196.22 L582.15 192.79 L582.75 189.54 L583.34 186.45 L583.94 183.50 L584.54 180.68 L585.14 177.97 L585.74 175.38 L586.34 172.87 L586.94 170.46 L587.54 168.13 L588.13 165.88 L588.73 163.70 L589.33 161.58 L589.93 159.53 L590.55 157.55 L591.17 155.62 L591.79 153.74 L592.42 151.92 L593.04 150.14 L593.66 148.41 L594.28 146.72 L594.91 145.08 L595.53 143.47 L596.15 141.90 L596.77 140.36 L597.40 138.86 L598.02 137.40 L598.64 135.96 L599.26 134.56 L599.89 133.18 L600.51 131.84 L601.13 130.52 L601.75 129.23 L602.38 127.96 L603.00 126.72 L603.62 125.50 L604.25 124.30 L604.87 123.13 L605.49 121.98 L606.09 120.84 L606.69 119.73 L607.29 118.63 L607.89 117.55 L608.49 116.49 L609.09 115.45 L609.68 114.42 L610.28 113.42 L610.88 112.43 L611.48 111.45 L612.08 110.49" fill="none" stroke="#ff0000" stroke-width="2.80" stroke-linejoin="round" stroke-dasharray="2.1 3.3"/>
<path d="M612.08 109.35 L612.68 108.42 L613.27 107.51 L613.87 106.61 L614.47 105.73 L615.07 104.86 L615.67 104.00 L616.27 103.16 L616.87 102.32 L617.46 101.50 L618.06 100.70 L618.66 99.90 L619.26 99.12 L619.86 98.34 L620.46 97.58 L621.06 96.83 L621.66 96.09 L622.25 95.36 L622.85 94.64 L623.45 93.93 L624.05 93.23 L624.65 92.54 L625.25 91.86 L625.85 91.19 L626.44 90.52 L627.04 89.87 L627.64 89.22 L628.24 88.59 L628.84 87.96 L629.44 87.34 L630.04 86.72 L630.63 86.12 L631.23 85.52 L631.83 84.93 L632.43 84.35 L633.03 83.77 L633.63 83.21 L634.23 82.64 L634.82 82.09 L635.42 81.54 L636.02 81.00 L636.62 80.47 L637.22 79.94 L637.82 79.42 L638.42 78.90 L639.01 78.39 L639.61 77.89 L640.21 77.39 L640.81 76.90 L641.41 76.41 L642.01 75.93 L642.61 75.46 L643.20 74.99 L643.80 74.53 L644.40 74.07 L645.00 73.61 L645.60 73.16 L646.20 72.72 L646.80 72.28 L647.39 71.85 L647.99 71.42 L648.59 70.99 L649.19 70.57 L649.79 70.16" fill="none" stroke="#ff0000" stroke-width="2.20" stroke-linejoin="round" stroke-dasharray="2 1.6"/>
<path d="M650.39 69.75 L650.99 69.34 L651.58 68.94 L652.18 68.54 L652.78 68.15 L653.38 67.76 L653.98 67.37 L654.58 66.99 L655.18 66.61 L655.78 66.24 L656.37 65.87 L656.97 65.50 L657.57 65.14 L658.17 64.78 L658.77 64.43 L659.37 64.08 L659.97 63.73 L660.56 63.38 L661.16 63.04 L661.76 62.70 L662.36 62.37 L662.96 62.04 L663.56 61.71 L664.16 61.39 L664.75 61.06 L665.35 60.75 L665.95 60.43 L666.55 60.12 L667.15 59.81 L667.75 59.50 L668.35 59.20 L668.94 58.90 L669.54 58.60 L670.14 58.30 L670.74 58.01 L671.34 57.72 L671.94 57.44 L672.54 57.15 L673.13 56.87 L673.73 56.59 L674.33 56.31 L674.93 56.04 L675.53 55.77 L676.13 55.50 L676.73 55.23 L677.32 54.97 L677.92 54.70 L678.52 54.45 L679.12 54.19 L679.72 53.93 L680.32 53.68 L680.92 53.43 L681.51 53.18 L682.11 52.93 L682.71 52.69 L683.31 52.45 L683.91 52.21 L684.51 51.97 L685.11 51.73 L685.70 51.50 L686.30 51.26 L686.90 51.03 L687.50 50.81 L688.10 50.58 L688.70 50.36 L689.30 50.13 L689.90 49.91 L690.49 49.69 L691.09 49.47 L691.69 49.26 L692.29 49.05 L692.89 48.83 L693.49 48.62 L694.09 48.41 L694.68 48.21 L695.28 48.00 L695.88 47.80 L696.48 47.60 L697.08 47.39 L697.68 47.20 L698.28 47.00 L698.87 46.80 L699.47 46.61 L700.07 46.41 L700.67 46.22 L701.27 46.03 L701.87 45.84 L702.47 45.66 L703.06 45.47 L703.66 45.29 L704.26 45.10 L704.86 44.92 L705.46 44.74 L706.06 44.56 L706.66 44.38 L707.25 44.21 L707.85 44.03 L708.45 43.86 L709.05 43.69 L709.65 43.52 L710.25 43.35 L710.85 43.18 L711.44 43.01 L712.04 42.84 L712.64 42.68 L713.24 42.51 L713.84 42.35 L714.44 42.19 L715.04 42.03 L715.63 41.87 L716.23 41.71 L716.83 41.55 L717.43 41.40 L718.03 41.24 L718.63 41.09 L719.23 40.93 L719.82 40.78 L720.42 40.63 L721.02 40.48 L721.62 40.33 L722.22 40.18 L722.82 40.04 L723.42 39.89 L724.01 39.75 L724.61 39.60 L725.21 39.46 L725.81 39.32 L726.41 39.17 L727.01 39.03 L727.61 38.89 L728.21 38.76 L728.80 38.62 L729.40 38.48 L730.00 38.34 L730.60 38.21 L731.20 38.08 L731.80 37.94 L732.40 37.81 L732.99 37.68 L733.59 37.55 L734.19 37.42 L734.79 37.29 L735.39 37.16 L735.99 37.03 L736.59 36.90 L737.18 36.78 L737.78 36.65 L738.38 36.53 L738.98 36.40 L739.58 36.28 L740.18 36.16 L740.78 36.03 L741.37 35.91 L741.97 35.79 L742.57 35.67 L743.17 35.55 L743.77 35.43 L744.37 35.32 L744.97 35.20 L745.56 35.08 L746.16 34.97 L746.76 34.85 L747.36 34.74 L747.96 34.62 L748.56 34.51 L749.16 34.40 L749.75 34.29 L750.35 34.17 L750.95 34.06 L751.55 33.95 L752.15 33.84 L752.75 33.74 L753.35 33.63 L753.94 33.52 L754.54 33.41 L755.14 33.31 L755.74 33.20 L756.34 33.09 L756.94 32.99 L757.54 32.88 L758.13 32.78 L758.73 32.68 L759.33 32.57 L759.93 32.47 L760.53 32.37 L761.13 32.27 L761.73 32.17 L762.33 32.07 L762.92 31.97 L763.52 31.87 L764.12 31.77 L764.72 31.67 L765.32 31.57 L765.92 31.48 L766.52 31.38 L767.11 31.28 L767.71 31.19 L768.31 31.09 L768.91 31.00 L769.51 30.90 L770.11 30.81 L770.71 30.71 L771.30 30.62 L771.90 30.53 L772.50 30.44 L773.10 30.34 L773.70 30.25 L774.30 30.16 L774.90 30.07 L775.49 29.98 L776.09 29.89 L776.69 29.80 L777.29 29.71 L777.89 29.62 L778.49 29.53 L779.09 29.45 L779.68 29.36 L780.28 29.27 L780.88 29.19 L781.48 29.10 L782.08 29.01 L782.68 28.93 L783.28 28.84 L783.87 28.76 L784.47 28.67 L785.07 28.59 L785.67 28.50 L786.27 28.42 L786.87 28.34 L787.47 28.25 L788.06 28.17 L788.66 28.09 L789.26 28.01 L789.86 27.93 L790.46 27.85 L791.06 27.76 L791.66 27.68 L792.25 27.60 L792.85 27.52 L793.45 27.44 L794.05 27.36 L794.65 27.29 L795.25 27.21 L795.85 27.13 L796.45 27.05 L797.04 26.97 L797.64 26.90 L798.24 26.82 L798.84 26.74 L799.44 26.66 L800.04 26.59 L800.64 26.51 L801.23 26.44 L801.83 26.36 L802.43 26.29 L803.03 26.21 L803.63 26.14 L804.23 26.06 L804.83 25.99 L805.42 25.91 L806.02 25.84 L806.62 25.77 L807.22 25.69 L807.82 25.62 L808.42 25.55 L809.02 25.47 L809.61 25.40 L810.21 25.33 L810.81 25.26 L811.41 25.19 L812.01 25.12 L812.61 25.04 L813.21 24.97 L813.80 24.90 L814.40 24.83 L815.00 24.76 L815.60 24.69 L816.20 24.62 L816.80 24.55 L817.40 24.48 L817.99 24.42 L818.59 24.35 L819.19 24.28" fill="none" stroke="#ff0000" stroke-width="2.50" stroke-linejoin="round" shape-rendering="crispEdges"/>
<rect x="820.0" y="22.8" width="1.1" height="3" fill="#ff0000" shape-rendering="crispEdges"/>
<rect x="431.9" y="208.0" width="1.1" height="3" fill="#ff0000" shape-rendering="crispEdges"/>
</svg>
</body></html>
